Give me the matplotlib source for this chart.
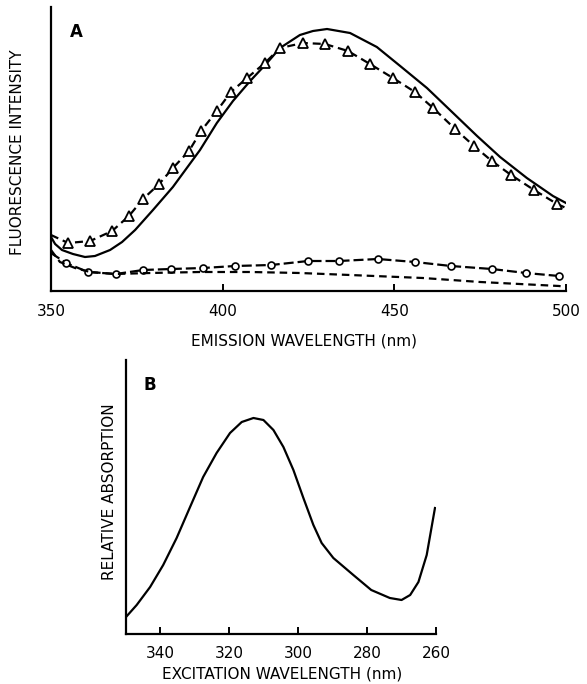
import matplotlib
matplotlib.use("Agg")
import matplotlib.pyplot as plt

plt.rcParams['font.family'] = ['DejaVu Sans']

# ---------------- Panel A data (emission spectra, arbitrary units) ----------
solid_wl = [350.0, 351.2, 353.2, 356.4, 359.9, 362.8, 367.2, 370.7, 374.5, 379.7,
            385.5, 393.4, 398.3, 403.0, 408.0, 412.9, 416.7, 422.5, 426.3, 430.4,
            437.1, 444.9, 451.7, 459.5, 466.2, 474.1, 480.8, 488.6, 496.2, 500.0]
solid_int = [54, 47, 41, 37, 34, 35, 41, 49, 61, 81,
             104, 141, 168, 190, 210, 228, 243, 256, 260, 262,
             258, 244, 225, 203, 181, 155, 134, 113, 95, 88]

tri_wl = [350.0, 355.0, 361.4, 367.8, 372.7, 376.8, 381.5, 385.5, 390.2, 393.7,
          398.3, 402.4, 407.1, 412.3, 416.7, 423.4, 429.8, 436.5, 442.9, 449.6,
          456.0, 461.3, 467.7, 473.2, 478.4, 484.0, 490.7, 497.4, 500.0]
tri_int = [56, 48, 50, 60, 75, 92, 107, 123, 140, 160,
           180, 199, 213, 228, 243, 248, 247, 240, 227, 213,
           199, 183, 162, 145, 130, 116, 101, 87, 83]

circ_wl = [350.0, 354.4, 360.8, 368.9, 376.8, 385.0, 394.3, 403.6, 414.1, 424.9,
           433.9, 445.2, 456.0, 466.5, 478.4, 488.3, 498.0]
circ_int = [38, 28, 19, 17, 21, 22, 23, 25, 26, 30,
            30, 32, 29, 25, 22, 18, 15]

dash_wl = [350.0, 352.6, 357.0, 361.4, 368.6, 378.8, 393.4, 408.0, 422.5, 437.1,
           458.3, 475.0, 498.0, 500.0]
dash_int = [41, 29, 23, 19, 17, 18, 19, 19, 18, 16,
            13, 9, 5, 4]

a_ticks = [350, 400, 450, 500]

# ---------------- Panel B data (excitation / absorption) --------------------
exc_wl = [350.0, 346.9, 343.0, 339.2, 335.3, 331.4, 327.6, 323.7, 319.8, 316.4,
          313.0, 310.1, 307.2, 304.3, 301.4, 298.5, 295.6, 293.2, 289.8, 284.0,
          278.8, 273.4, 270.0, 267.5, 265.1, 262.7, 260.3]
exc_abs = [17, 29, 47, 69, 96, 127, 157, 181, 201, 212,
           216, 214, 204, 187, 164, 136, 109, 91, 76, 59,
           44, 36, 34, 39, 52, 79, 126]

b_ticks = [340, 320, 300, 280, 260]

W, H = 587, 684
fig = plt.figure(figsize=(W / 100, H / 100), dpi=100)

lw = 1.6
fs = 11

def style_axes(ax):
    for s in ('top', 'right'):
        ax.spines[s].set_visible(False)
    for s in ('left', 'bottom'):
        ax.spines[s].set_linewidth(1.6)
    ax.set_yticks([])
    ax.tick_params(axis='x', direction='in', length=5, width=1.4, pad=9,
                   labelsize=fs)

# ---------------- Panel A ----------------
axA = fig.add_axes([51 / W, 1 - 291 / H, (566 - 51) / W, (291 - 7) / H])
style_axes(axA)
axA.set_xlim(350, 500)
axA.set_ylim(0, 284)
axA.set_xticks(a_ticks)
axA.set_xticklabels([str(t) for t in a_ticks])

axA.plot(solid_wl, solid_int, color='black', lw=lw, solid_joinstyle='round')
axA.plot(tri_wl, tri_int, color='black', lw=lw, dashes=(3.6, 2.2),
         marker='^', markevery=slice(1, len(tri_wl) - 1), ms=6.5, mfc='white',
         mec='black', mew=1.3)
axA.plot(circ_wl, circ_int, color='black', lw=lw, dashes=(4.5, 1.8),
         marker='o', markevery=slice(1, len(circ_wl)), ms=5, mfc='white',
         mec='black', mew=1.2)
axA.plot(dash_wl, dash_int, color='black', lw=lw, dashes=(3.4, 2.2))

axA.text(0.05, 0.912, 'A', transform=axA.transAxes, fontsize=12,
         fontweight='bold', ha='center', va='center')
axA.set_xlabel('EMISSION WAVELENGTH (nm)', fontsize=fs)
axA.xaxis.set_label_coords(0.491, -0.148)
fig.text(18 / W, 1 - 152 / H, 'FLUORESCENCE INTENSITY', rotation=90,
         ha='center', va='center', fontsize=fs)

# ---------------- Panel B ----------------
axB = fig.add_axes([126 / W, 1 - 634 / H, (436 - 126) / W, (634 - 360) / H])
style_axes(axB)
axB.set_xlim(350, 260)
axB.set_ylim(0, 274)
axB.set_xticks(b_ticks)
axB.set_xticklabels([str(t) for t in b_ticks])
axB.plot(exc_wl, exc_abs, color='black', lw=lw, solid_joinstyle='round')

axB.text(0.077, 0.909, 'B', transform=axB.transAxes, fontsize=12,
         fontweight='bold', ha='center', va='center')
axB.set_xlabel('EXCITATION WAVELENGTH (nm)', fontsize=fs)
axB.xaxis.set_label_coords(0.503, -0.117)
fig.text(110 / W, 1 - 492 / H, 'RELATIVE ABSORPTION', rotation=90,
         ha='center', va='center', fontsize=fs)

fig.savefig('out.png', dpi=100, facecolor='white')
